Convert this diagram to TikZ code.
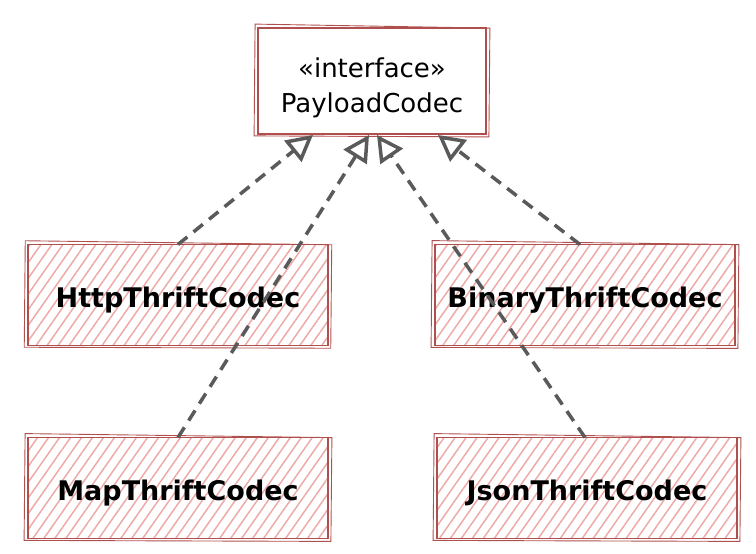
\documentclass[tikz,border=0pt]{standalone}
\usepackage{fontspec}
\setmainfont{DejaVu Sans}
\usetikzlibrary{arrows.meta,patterns.meta}
\definecolor{boxred}{HTML}{B0504E}
\definecolor{hatchred}{HTML}{EEAAA8}
\definecolor{arrowgrey}{HTML}{5A5A5A}
\tikzset{
 implbox/.style={rectangle, draw=boxred, line width=1.8pt,
   pattern={Lines[angle=55,distance=9pt,line width=1.5pt]}, pattern color=hatchred,
   minimum width=300pt, minimum height=101pt, inner sep=0pt,
   text height=25pt, text depth=0pt,
   font=\bfseries\fontsize{27}{30}\selectfont},
 ifacebox/.style={rectangle, draw=boxred, line width=1.8pt, fill=white,
   minimum width=228pt, minimum height=106pt, inner sep=0pt},
 ifacetext/.style={align=center, inner sep=0pt, font=\fontsize{26}{35}\selectfont},
 sketchline/.style={draw=boxred, line width=0.9pt},
 realize/.style={draw=arrowgrey, line width=3.5pt, dash pattern=on 12pt off 8pt,
   -{Triangle[open,length=26pt,width=27pt,line width=3.5pt]}}
}
\begin{document}
\begin{tikzpicture}[x=1pt,y=-1pt]
\useasboundingbox (0,0) rectangle (756,554);
\node[ifacebox] (codec) at (372,81) {};
\node[ifacetext] (codectext) at (372,88) {«interface»\\PayloadCodec};
\node[implbox] (http) at (178,295) {HttpThriftCodec};
\node[implbox] (binary) at (585,295) {BinaryThriftCodec};
\node[implbox] (map) at (178,488) {MapThriftCodec};
\node[implbox] (json) at (587,488) {JsonThriftCodec};
\foreach \n in {codec,http,binary,map,json}
  \draw[sketchline] ([shift={(-2pt,3pt)}]\n.north west) -- ([shift={(3pt,-1pt)}]\n.north east)
    -- ([shift={(2pt,-2pt)}]\n.south east) -- ([shift={(-3pt,-1pt)}]\n.south west) -- cycle;
\coordinate (tH) at (313,135);
\coordinate (tM) at (369,135);
\coordinate (tJ) at (377,135);
\coordinate (tB) at (438,135);
\coordinate (sH) at (178,244.5);
\coordinate (sM) at (178,437.5);
\coordinate (sJ) at (585,437.5);
\coordinate (sB) at (580,244.5);
\draw[realize] (sH) -- (tH);
\draw[realize] (sB) -- (tB);
\draw[realize] (sM) -- (tM);
\draw[realize] (sJ) -- (tJ);
\end{tikzpicture}
\end{document}
